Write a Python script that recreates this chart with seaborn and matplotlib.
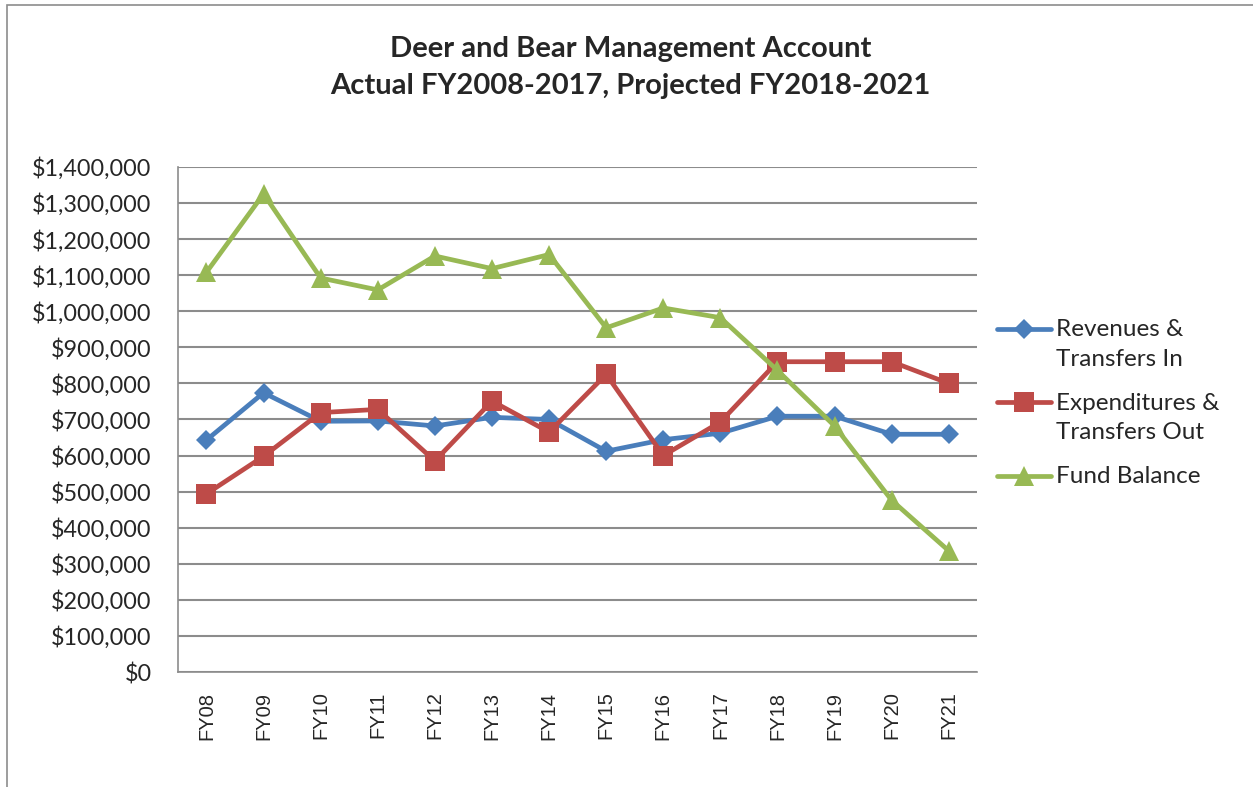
import pandas as pd
import matplotlib.pyplot as plt
import seaborn as sns
from matplotlib.patches import Rectangle
from matplotlib.ticker import FuncFormatter

# Data
years = ['FY08', 'FY09', 'FY10', 'FY11', 'FY12', 'FY13', 'FY14',
         'FY15', 'FY16', 'FY17', 'FY18', 'FY19', 'FY20', 'FY21']
revenues = [643000, 774000, 695000, 696000, 682000, 706000, 700000,
            612000, 644000, 662000, 709000, 709000, 659000, 659000]
expenditures = [494000, 598000, 719000, 728000, 585000, 751000, 665000,
                825000, 600000, 693000, 860000, 860000, 860000, 800000]
fund_balance = [1108000, 1325000, 1092000, 1059000, 1153000, 1118000, 1157000,
                954000, 1009000, 982000, 836000, 682000, 476000, 336000]

series_names = ['Revenues &\nTransfers In', 'Expenditures &\nTransfers Out', 'Fund Balance']

df = pd.DataFrame({
    'Year': years * 3,
    'Amount': revenues + expenditures + fund_balance,
    'Series': [series_names[0]] * len(years) + [series_names[1]] * len(years) + [series_names[2]] * len(years),
})

palette = {series_names[0]: '#4A7EBB', series_names[1]: '#BE4B48', series_names[2]: '#98B954'}
markers = {series_names[0]: 'D', series_names[1]: 's', series_names[2]: '^'}

sns.set_style('white')
plt.rcParams['font.family'] = ['Lato', 'DejaVu Sans']

fig = plt.figure(figsize=(12.53, 7.87), dpi=100)
ax = fig.add_axes([0.142, 0.146, 0.638, 0.642])

sns.lineplot(data=df, x='Year', y='Amount', hue='Series', style='Series',
             palette=palette, markers=markers, dashes=False, sort=False,
             linewidth=3.4, markersize=14.5, markeredgewidth=0, ax=ax)

# make the diamond a bit smaller, like the original
for line in ax.get_lines():
    if line.get_marker() == 'D':
        line.set_markersize(10.5)

ax.set_xlim(-0.5, len(years) - 0.5)
ax.set_ylim(0, 1400000)
ax.set_yticks(range(0, 1400001, 100000))
ax.yaxis.set_major_formatter(FuncFormatter(lambda v, p: '${:,.0f}'.format(v)))
ax.grid(axis='y', color='#8C8C8C', linewidth=1.5)
ax.set_axisbelow(True)
ax.set_xlabel('')
ax.set_ylabel('')

for s in ['top', 'right']:
    ax.spines[s].set_visible(False)
for s in ['left', 'bottom']:
    ax.spines[s].set_color('#8C8C8C')
    ax.spines[s].set_linewidth(1.2)

ax.tick_params(axis='y', labelsize=16.8, length=0, pad=19)
ax.tick_params(axis='x', labelsize=14.5, length=0, pad=14, rotation=90)
for lbl in ax.get_xticklabels():
    lbl.set_family('Liberation Sans')

fig.text(0.503, 0.914, 'Deer and Bear Management Account\nActual FY2008-2017, Projected FY2018-2021',
         ha='center', va='center', fontsize=21, fontweight='bold', linespacing=1.5)

handles, labels = ax.get_legend_handles_labels()
for h in handles:
    h.set_linewidth(3.4)
leg = ax.legend(handles, labels, loc='center left', bbox_to_anchor=(0.796, 0.487),
                bbox_transform=fig.transFigure, frameon=False, fontsize=17.5,
                handlelength=2.2, handletextpad=0.2, labelspacing=0.95, borderaxespad=0,
                borderpad=0, handleheight=1.0)
for t in leg.get_texts():
    t.set_linespacing(1.5)
# Excel puts the marker next to the first line of a wrapped label
for col in leg._legend_handle_box.get_children():
    for row in col.get_children():
        row.align = 'top'

# chart border
fig.patches.append(Rectangle((7 / 1253, -0.1), 1.2, 1 - 5 / 787 + 0.1,
                             transform=fig.transFigure, fill=False,
                             edgecolor='#8C8C8C', linewidth=1.2))

fig.savefig('out.png', dpi=100)
